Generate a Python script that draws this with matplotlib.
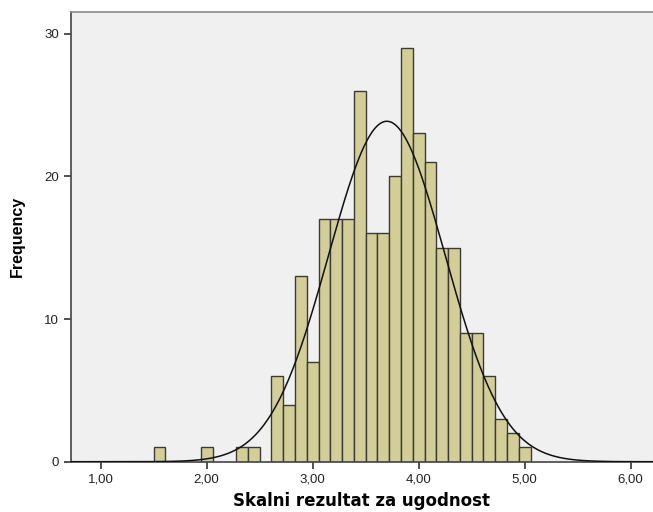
import numpy as np
import matplotlib.pyplot as plt

plt.rcParams['font.family'] = ['Liberation Sans', 'DejaVu Sans']

# histogram bins: scale scores are averages of 9 items, bins centred on k/9
bin_k = np.array([14, 18, 21, 22, 24, 25, 26, 27, 28, 29, 30, 31, 32, 33, 34,
                  35, 36, 37, 38, 39, 40, 41, 42, 43, 44, 45])
counts = np.array([1, 1, 1, 1, 6, 4, 13, 7, 17, 17, 17, 26, 16, 16, 20,
                   29, 23, 21, 15, 15, 9, 9, 6, 3, 2, 1])
bin_width = 1 / 9

# normal curve parameters
mean = 3.70
sd = 0.55
n_total = counts.sum()

xticks = [1, 2, 3, 4, 5, 6]
yticks = [0, 10, 20, 30]

fig = plt.figure(figsize=(6.53, 5.12), dpi=100)
ax = fig.add_axes([0.1083, 0.0982, 0.8917, 0.8789])
ax.set_facecolor('#F0F0F0')

centers = bin_k * bin_width
ax.bar(centers, counts, width=bin_width, color='#D3CE97', edgecolor='#3a3a3a',
       linewidth=1.0, zorder=2)

xs = np.linspace(0.7, 6.3, 600)
ys = n_total * bin_width / (sd * np.sqrt(2 * np.pi)) * np.exp(-0.5 * ((xs - mean) / sd) ** 2)
ax.plot(xs, ys, color='#111111', linewidth=1.1, zorder=3)

ax.set_xlim(0.718, 6.21)
ax.set_ylim(0, 31.53)
ax.set_xticks(xticks)
ax.set_xticklabels([f'{v:.2f}'.replace('.', ',') for v in xticks])
ax.set_yticks(yticks)
ax.tick_params(axis='both', labelsize=9.5, color='#333333', labelcolor='#222222',
               length=5, width=1.2, direction='out')

for side in ['left', 'bottom']:
    ax.spines[side].set_color('#444444')
    ax.spines[side].set_linewidth(1.2)
ax.spines['top'].set_color('#888888')
ax.spines['top'].set_linewidth(1.2)
ax.spines['right'].set_visible(False)

ax.set_xlabel('Skalni rezultat za ugodnost', fontsize=12, fontweight='bold',
              family=['DejaVu Sans'], labelpad=5)
ax.set_ylabel('Frequency', fontsize=11.5, fontweight='bold', labelpad=14)

fig.savefig('out.png', dpi=100)
